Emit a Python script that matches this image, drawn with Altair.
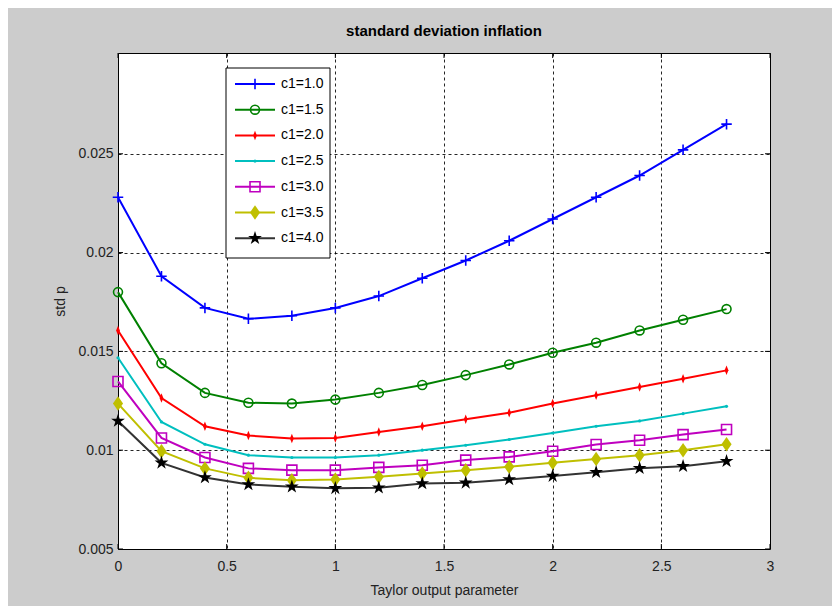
import altair as alt
import pandas as pd

# ---------------- data ----------------
x_vals = [0.0, 0.2, 0.4, 0.6, 0.8, 1.0, 1.2, 1.4, 1.6, 1.8, 2.0, 2.2, 2.4, 2.6, 2.8]
series_names = ["c1=1.0", "c1=1.5", "c1=2.0", "c1=2.5", "c1=3.0", "c1=3.5", "c1=4.0"]
c1_10 = [0.0228, 0.0188, 0.0172, 0.01665, 0.0168, 0.0172, 0.0178, 0.0187, 0.0196, 0.0206, 0.0217, 0.0228, 0.0239, 0.0252, 0.0265]
c1_15 = [0.0180, 0.0144, 0.0129, 0.0124, 0.01236, 0.01256, 0.0129, 0.0133, 0.0138, 0.01434, 0.01493, 0.01544, 0.01606, 0.0166, 0.01714]
c1_20 = [0.01606, 0.01264, 0.01121, 0.01074, 0.01059, 0.01062, 0.01092, 0.01121, 0.01157, 0.0119, 0.01236, 0.01278, 0.0132, 0.01362, 0.01404]
c1_25 = [0.01468, 0.01143, 0.0103, 0.00975, 0.00963, 0.00963, 0.00975, 0.0100, 0.01025, 0.01054, 0.01087, 0.01121, 0.01148, 0.01185, 0.01222]
c1_30 = [0.01348, 0.01062, 0.00963, 0.00908, 0.00899, 0.00899, 0.00913, 0.00924, 0.0095, 0.00966, 0.00995, 0.01029, 0.0105, 0.01079, 0.01105]
c1_35 = [0.01236, 0.00995, 0.00908, 0.0086, 0.00848, 0.00852, 0.00865, 0.00882, 0.00899, 0.00916, 0.00936, 0.00955, 0.00975, 0.0100, 0.0103]
c1_40 = [0.01148, 0.00936, 0.00862, 0.00827, 0.00815, 0.00807, 0.0081, 0.00832, 0.00835, 0.00852, 0.00869, 0.00889, 0.00909, 0.00919, 0.00944]
all_series = [c1_10, c1_15, c1_20, c1_25, c1_30, c1_35, c1_40]

x_ticks = [0, 0.5, 1, 1.5, 2, 2.5, 3]
y_ticks = [0.005, 0.01, 0.015, 0.02, 0.025]

# ---------------- styles ----------------
line_colors = ["#0000FF", "#008000", "#FF0000", "#00BFBF", "#BF00BF", "#BFBF00", "#333333"]
marker_colors = ["#0000FF", "#008000", "#FF0000", "#00BFBF", "#BF00BF", "#BFBF00", "#000000"]
PLUS = "M-1,0L1,0M0,-1L0,1"
STAR = ("M0,-1L0.2245,-0.309L0.951,-0.309L0.363,0.118L0.588,0.809L0,0.382"
        "L-0.588,0.809L-0.363,0.118L-0.951,-0.309L-0.2245,-0.309Z")
NARROW_D = "M0,-1L0.4,0L0,1L-0.4,0Z"
DIAM = "M0,-1L0.7,0L0,1L-0.7,0Z"
markers = [
    dict(shape=PLUS, size=110, filled=False, strokeWidth=1.6),
    dict(shape="circle", size=80, filled=False, strokeWidth=1.6),
    dict(shape=NARROW_D, size=90, filled=True, strokeWidth=0.5),
    dict(shape="circle", size=10, filled=True, strokeWidth=0.5),
    dict(shape="square", size=100, filled=False, strokeWidth=1.6),
    dict(shape=DIAM, size=210, filled=True, strokeWidth=0.5),
    dict(shape=STAR, size=210, filled=True, strokeWidth=0.5),
]

FONT = "Liberation Sans Narrow, Liberation Sans, Arial, sans-serif"
W, H = 652, 496

rows = []
for name, vals in zip(series_names, all_series):
    for xv, yv in zip(x_vals, vals):
        rows.append({"series": name, "x": xv, "y": yv})
df = pd.DataFrame(rows)

xs = alt.Scale(domain=[0, 3], nice=False, zero=False)
ys = alt.Scale(domain=[0.005, 0.0301], nice=False, zero=False)

x_axis = alt.Axis(values=x_ticks, format="~g", title="Taylor output parameter",
                  grid=True, gridDash=[3, 3], gridColor="#000000", gridOpacity=0.85,
                  ticks=False, domain=False, labelPadding=10, titlePadding=10,
                  labelFlush=False, labelOverlap=False)
y_axis = alt.Axis(values=y_ticks, format=".3~f", title="std p",
                  grid=True, gridDash=[3, 3], gridColor="#000000", gridOpacity=0.85,
                  ticks=False, domain=False, labelPadding=5, titlePadding=10,
                  labelFlush=False, labelOverlap=False)

X = alt.X("x:Q", scale=xs, axis=x_axis)
Y = alt.Y("y:Q", scale=ys, axis=y_axis)

lines = alt.Chart(df).mark_line(strokeWidth=2).encode(
    x=X, y=Y,
    color=alt.Color("series:N", scale=alt.Scale(domain=series_names, range=line_colors), legend=None),
    detail="series:N",
)

layers = [lines]
for name, col, mk in zip(series_names, marker_colors, markers):
    pt = alt.Chart(df).transform_filter(alt.datum.series == name).mark_point(
        shape=mk["shape"], size=mk["size"], filled=mk["filled"],
        color=col, strokeWidth=mk["strokeWidth"], opacity=1,
    ).encode(x=X, y=Y)
    layers.append(pt)

# inward tick marks (MATLAB style)
xt_df = pd.DataFrame({"x": x_ticks})
yt_df = pd.DataFrame({"y": y_ticks})
for y0, y1 in [(H, H - 5), (0, 5)]:
    layers.append(alt.Chart(xt_df).mark_rule(color="black", strokeWidth=1).encode(
        x=X, y=alt.value(y0), y2=alt.value(y1)))
for x0, x1 in [(0, 5), (W, W - 5)]:
    layers.append(alt.Chart(yt_df).mark_rule(color="black", strokeWidth=1).encode(
        y=Y, x=alt.value(x0), x2=alt.value(x1)))

# legend box (MATLAB style)
LX0, LX1, LY0, LY1 = 108, 212, 15, 205
one = pd.DataFrame({"k": [0]})
layers.append(alt.Chart(one).mark_rect(fill="white", stroke="black", strokeWidth=1).encode(
    x=alt.value(LX0), x2=alt.value(LX1), y=alt.value(LY0), y2=alt.value(LY1)))
for i, (name, lc, mc, mk) in enumerate(zip(series_names, line_colors, marker_colors, markers)):
    yy = 31 + 25.7 * i
    ld = pd.DataFrame({"name": [name]})
    layers.append(alt.Chart(ld).mark_rule(color=lc, strokeWidth=2).encode(
        x=alt.value(117), x2=alt.value(157), y=alt.value(yy)))
    layers.append(alt.Chart(ld).mark_point(
        shape=mk["shape"], size=mk["size"], filled=mk["filled"], color=mc,
        strokeWidth=mk["strokeWidth"], opacity=1).encode(x=alt.value(137), y=alt.value(yy)))
    layers.append(alt.Chart(ld).mark_text(align="left", baseline="middle", font=FONT,
                                          fontSize=14, color="black").encode(
        x=alt.value(163), y=alt.value(yy), text="name:N"))

chart = alt.layer(*layers).properties(
    width=W, height=H,
    autosize=alt.AutoSizeParams(type="none"),
    padding={"left": 110, "top": 45, "right": 62, "bottom": 57},
    title=alt.Title("standard deviation inflation", font=FONT, fontSize=15,
                    fontWeight="bold", color="black", anchor="middle", offset=14),
).configure(background="#CCCCCC").configure_view(
    fill="white", stroke="black", strokeWidth=1
).configure_axis(
    labelFont=FONT, labelFontSize=14, labelColor="#222222",
    titleFont=FONT, titleFontSize=14, titleFontWeight="normal", titleColor="#222222",
)

chart.save("out.html", embed_options={"renderer": "svg", "actions": False})
